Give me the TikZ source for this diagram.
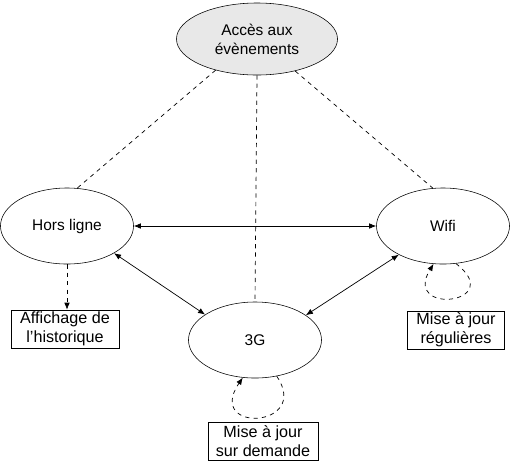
\documentclass[tikz,border=0pt]{standalone}
\usepackage{fontspec}
\setmainfont{Liberation Sans}
\usetikzlibrary{arrows.meta,positioning,shapes.geometric}

\begin{document}
\begin{tikzpicture}[
    x=0.025cm, y=-0.025cm,
    font=\fontsize{11}{13.5}\selectfont,
    mode_node_style/.style={ellipse_shape, minimum width=3.325cm, minimum height=1.9cm},
    ellipse_shape/.style={ellipse, draw, inner sep=0pt, align=center},
    task_box_style/.style={rectangle, draw, inner sep=1pt, minimum height=0.95cm, align=center,
        font=\fontsize{11.5}{13.5}\selectfont},
    link_style/.style={dashed, line width=0.5pt},
    switch_style/.style={{Latex[length=5pt,width=4pt]}-{Latex[length=5pt,width=4pt]}, line width=0.5pt},
    loop_style/.style={dashed, -{Latex[length=5pt,width=4pt]}, line width=0.5pt}
]
\useasboundingbox (0,0) rectangle (511,462);

% Access node and the three connection modes
\node[ellipse_shape, fill=gray!18, minimum width=4.025cm, minimum height=1.8cm] (access) at (257,39) {Accès aux\\évènements};
\node[mode_node_style] (offline) at (67,226) {Hors ligne};
\node[mode_node_style] (wifi) at (443,226) {Wifi};
\node[mode_node_style] (net3g) at (255,340) {3G};

% Tasks
\node[task_box_style, minimum width=2.7cm] (history) at (65,329) {Affichage de\\l’historique};
\node[task_box_style, minimum width=2.425cm] (regular) at (456,330) {Mise à jour\\régulières};
\node[task_box_style, minimum width=2.75cm] (ondemand) at (263,441) {Mise à jour\\sur demande};

% Links to the access node
\draw[link_style] (access.-143) -- (offline.75);
\draw[link_style] (access.-40) -- (wifi.105);
\draw[link_style] (access.south) -- (net3g.north);

% Switching between modes
\draw[switch_style] (offline) -- (wifi);
\draw[switch_style] (offline.-30) -- (net3g.153);
\draw[switch_style] (net3g.26) -- (wifi.-147);

% Mode tasks
\draw[loop_style] (offline.south) -- (offline.south |- history.north);
\draw[loop_style] (wifi.-71) .. controls +(52,40) and +(-32,52) .. (wifi.-104);
\draw[loop_style] (net3g.-59) .. controls +(35,52) and +(-38,56) .. (net3g.-108);

\end{tikzpicture}
\end{document}
